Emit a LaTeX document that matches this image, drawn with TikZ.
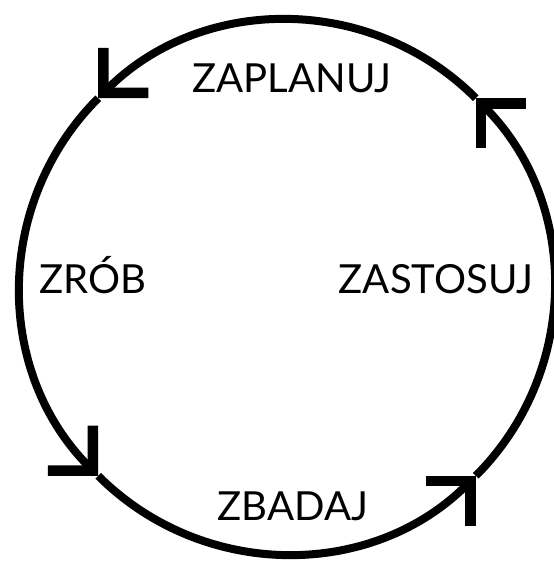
\documentclass[tikz,border=0pt]{standalone}
\usepackage{fontspec}
\setmainfont{Lato}
\usepackage{tikz}
\usetikzlibrary{arrows.meta,calc}

\begin{document}
\begin{tikzpicture}[
  every node/.style={font=\fontsize{22.8}{27}\selectfont, inner sep=0pt, anchor=base},
  cycle/.style={line width=0.16cm, black,
                -{Straight Barb[angle=90:0.9cm, line width=0.21cm]}}
]
  \def\R{5.34}
  \useasboundingbox (-5.74,-5.48) rectangle (5.34,5.74);
  % points on the ring
  \coordinate (ne) at (45:\R);
  \coordinate (nw) at (135:\R);
  \coordinate (sw) at (225:\R);
  \coordinate (se) at (315:\R);
  % labels
  \node (plan)  at (0.10,3.90)   {ZAPLANUJ};
  \node (zrob)  at (-3.88,-0.12) {ZRÓB};
  \node (zbad)  at (0.12,-4.66)  {ZBADAJ};
  \node (zast)  at (2.98,-0.12)  {ZASTOSUJ};
  % the cycle
  \draw[cycle] (ne) arc[start angle=45,  end angle=135, radius=\R];
  \draw[cycle] (nw) arc[start angle=135, end angle=225, radius=\R];
  \draw[cycle] (sw) arc[start angle=225, end angle=315, radius=\R];
  \draw[cycle] (se) arc[start angle=-45, end angle=45,  radius=\R];
\end{tikzpicture}
\end{document}
